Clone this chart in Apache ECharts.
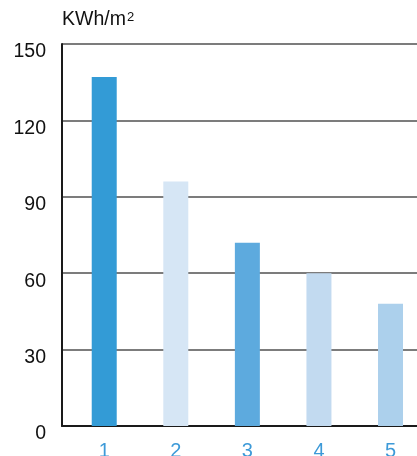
<!DOCTYPE html>
<html>
<head>
<meta charset="utf-8">
<script src="https://cdn.jsdelivr.net/npm/echarts@6/dist/echarts.min.js"></script>
<style>
  html, body { margin: 0; padding: 0; background: #fff; }
  #chart { width: 417px; height: 456px; }
</style>
</head>
<body>
<div id="chart"></div>
<script>
// Energy demand per square metre for five cases
const categories = [1, 2, 3, 4, 5];
const values = [137, 96, 72, 60, 48];
const barColors = ['#339bd6', '#d6e6f5', '#5daade', '#c2daf0', '#acd0ec'];
const yTicks = [0, 30, 60, 90, 120, 150];
const unitBase = 'KWh/m';
const unitExponent = '2';

const font = '"Liberation Sans", Arial, Helvetica, sans-serif';

const chart = echarts.init(document.getElementById('chart'), null, { renderer: 'canvas' });

chart.setOption({
  animation: false,
  backgroundColor: '#ffffff',
  title: {
    text: '{b|' + unitBase + '}{s|' + unitExponent + '}',
    left: 57,
    top: 5,
    textStyle: {
      fontWeight: 'normal',
      rich: {
        b: { fontFamily: font, fontSize: 19.5, fontWeight: 'normal', color: '#111', verticalAlign: 'bottom' },
        s: { fontFamily: font, fontSize: 13, fontWeight: 'normal', color: '#111', verticalAlign: 'top', padding: [1, 0, 0, 1] }
      }
    }
  },
  grid: { left: 62, right: 0, top: 44, bottom: 30, containLabel: false, outerBoundsMode: 'none' },
  xAxis: {
    type: 'value',
    min: 0.41,
    max: 5.37,
    axisLine: { show: true, onZero: false, lineStyle: { color: '#1a1a1a', width: 2 } },
    axisTick: { show: false },
    splitLine: { show: false },
    axisLabel: {
      customValues: categories,
      margin: 15,
      color: '#3d9ad8',
      fontFamily: font,
      fontSize: 20,
      formatter: v => String(v)
    }
  },
  yAxis: {
    type: 'value',
    min: yTicks[0],
    max: yTicks[yTicks.length - 1],
    interval: 30,
    axisLine: { show: true, lineStyle: { color: '#1a1a1a', width: 2 } },
    axisTick: { show: false },
    splitLine: { show: true, lineStyle: { color: '#505050', width: 1.5 } },
    axisLabel: {
      margin: 16,
      verticalAlign: 'top',
      lineHeight: 16,
      color: '#111',
      fontFamily: font,
      fontSize: 19.5
    }
  },
  series: [{
    type: 'bar',
    barWidth: 25,
    data: categories.map((c, i) => ({
      value: [c, values[i]],
      itemStyle: { color: barColors[i] }
    }))
  }]
});
</script>
</body>
</html>
